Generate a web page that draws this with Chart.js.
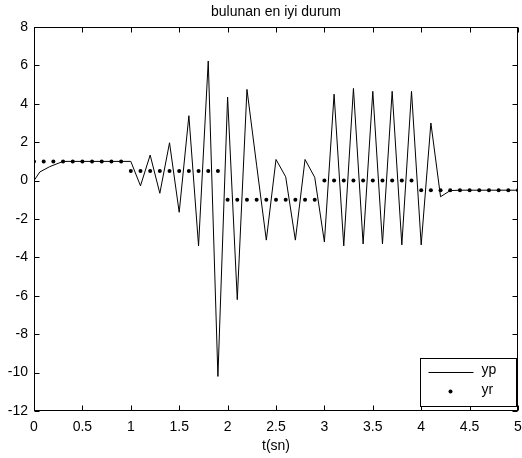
<!DOCTYPE html>
<html>
<head>
<meta charset="utf-8">
<script src="https://cdn.jsdelivr.net/npm/chart.js@4.4.1/dist/chart.umd.min.js"></script>
<style>
  html, body { margin: 0; padding: 0; background: #fff; }
  canvas { display: block; }
</style>
</head>
<body>
<canvas id="chart" width="522" height="458"></canvas>
<script>
const titleText = 'bulunan en iyi durum';
const xTitle = 't(sn)';

// yp: plant output
const tLine = [0, 0.06, 0.16, 0.3, 0.4, 0.5, 0.6, 0.7, 0.8, 0.9,
  1.0, 1.1, 1.2, 1.3, 1.4, 1.5, 1.6, 1.7, 1.8, 1.9,
  2.0, 2.1, 2.2, 2.3, 2.4, 2.5, 2.6, 2.7, 2.8, 2.9,
  3.0, 3.1, 3.2, 3.3, 3.4, 3.5, 3.6, 3.7, 3.8, 3.9,
  4.0, 4.1, 4.2, 4.3, 4.4, 4.5, 4.6, 4.7, 4.8, 4.9, 5.0];
const ypValues = [0, 0.45, 0.72, 1.0, 1.0, 1.0, 1.0, 1.0, 1.0, 1.0,
  1.0, -0.27, 1.33, -0.66, 1.97, -1.65, 3.38, -3.4, 6.23, -10.2,
  4.35, -6.2, 4.75, 0.8, -3.1, 1.1, 0.2, -3.1, 1.1, 0.17,
  -3.2, 4.5, -3.4, 4.8, -3.3, 4.65, -3.3, 4.65, -3.35, 4.65,
  -3.35, 3.0, -0.84, -0.52, -0.5, -0.5, -0.5, -0.5, -0.5, -0.5, -0.5];

// yr: reference, one dot every 0.1 s
const tRef = [0, 0.1, 0.2, 0.3, 0.4, 0.5, 0.6, 0.7, 0.8, 0.9,
  1.0, 1.1, 1.2, 1.3, 1.4, 1.5, 1.6, 1.7, 1.8, 1.9,
  2.0, 2.1, 2.2, 2.3, 2.4, 2.5, 2.6, 2.7, 2.8, 2.9,
  3.0, 3.1, 3.2, 3.3, 3.4, 3.5, 3.6, 3.7, 3.8, 3.9,
  4.0, 4.1, 4.2, 4.3, 4.4, 4.5, 4.6, 4.7, 4.8, 4.9, 5.0];
const yrValues = [1, 1, 1, 1, 1, 1, 1, 1, 1, 1,
  0.5, 0.5, 0.5, 0.5, 0.5, 0.5, 0.5, 0.5, 0.5, 0.5,
  -1, -1, -1, -1, -1, -1, -1, -1, -1, -1,
  0, 0, 0, 0, 0, 0, 0, 0, 0, 0,
  -0.5, -0.5, -0.5, -0.5, -0.5, -0.5, -0.5, -0.5, -0.5, -0.5, -0.5];

const FAMILY = '"Liberation Sans", Arial, sans-serif';
const FONT = '14px ' + FAMILY;

// matlab-ish box, inward ticks, title and legend
const matlabFrame = {
  id: 'matlabFrame',
  beforeDraw(chart) {
    const ctx = chart.ctx;
    ctx.save();
    ctx.fillStyle = '#fff';
    ctx.fillRect(0, 0, chart.width, chart.height);
    ctx.restore();
  },
  afterDraw(chart) {
    const ctx = chart.ctx;
    const a = chart.chartArea;
    const xs = chart.scales.x, ys = chart.scales.y;
    const L = Math.round(a.left) + 0.5, R = Math.round(a.right) - 0.5;
    const T = Math.round(a.top) + 0.5, B = Math.round(a.bottom) - 0.5;
    const len = 5;
    ctx.save();
    ctx.strokeStyle = '#000';
    ctx.lineWidth = 1;
    ctx.strokeRect(L, T, R - L, B - T);
    ctx.beginPath();
    xs.ticks.forEach(t => {
      const px = Math.round(xs.getPixelForValue(t.value)) + 0.5;
      ctx.moveTo(px, B); ctx.lineTo(px, B - len);
      ctx.moveTo(px, T); ctx.lineTo(px, T + len);
    });
    ys.ticks.forEach(t => {
      const py = Math.round(ys.getPixelForValue(t.value)) + 0.5;
      ctx.moveTo(L, py); ctx.lineTo(L + len, py);
      ctx.moveTo(R, py); ctx.lineTo(R - len, py);
    });
    ctx.stroke();

    // title, centred on the axes
    ctx.fillStyle = '#000';
    ctx.font = FONT;
    ctx.textAlign = 'center';
    ctx.textBaseline = 'middle';
    ctx.fillText(titleText, (a.left + a.right) / 2, 12);

    // legend box
    const ds = chart.data.datasets;
    const bw = 96, bh = 48;
    const bx = Math.round(a.right) - 2 - bw + 0.5;
    const by = Math.round(a.bottom) - 5 - bh + 0.5;
    ctx.fillStyle = '#fff';
    ctx.fillRect(bx, by, bw, bh);
    ctx.strokeRect(bx, by, bw, bh);
    ctx.fillStyle = '#000';
    ctx.textAlign = 'left';
    const row1 = by + 13, row2 = by + 33;
    ctx.beginPath();
    ctx.moveTo(bx + 8, Math.round(row1) + 0.5);
    ctx.lineTo(bx + 53, Math.round(row1) + 0.5);
    ctx.stroke();
    ctx.beginPath();
    ctx.arc(bx + 30, row2, 2, 0, Math.PI * 2);
    ctx.fill();
    ctx.fillText(ds[0].label, bx + 61, row1 - 1);
    ctx.fillText(ds[1].label, bx + 61, row2 - 1);
    ctx.restore();
  }
};

new Chart(document.getElementById('chart'), {
  type: 'scatter',
  data: {
    datasets: [
      {
        label: 'yp',
        data: tLine.map((t, i) => ({x: t, y: ypValues[i]})),
        showLine: true,
        borderColor: '#000',
        borderWidth: 1,
        pointRadius: 0,
        tension: 0,
      },
      {
        label: 'yr',
        data: tRef.map((t, i) => ({x: t, y: yrValues[i]})),
        showLine: false,
        backgroundColor: '#000',
        borderColor: '#000',
        borderWidth: 0,
        pointRadius: 2,
      },
    ]
  },
  options: {
    responsive: false,
    animation: false,
    layout: {padding: {top: 27, right: 2, left: 0, bottom: 0}},
    plugins: {
      legend: {display: false},
      title: {display: false},
      tooltip: {enabled: false},
    },
    scales: {
      x: {
        type: 'linear',
        min: 0, max: 5,
        ticks: {
          stepSize: 0.5, color: '#000', font: {family: FAMILY, size: 14}, padding: 8, maxRotation: 0,
          callback: v => String(Math.round(v * 10) / 10),
        },
        grid: {display: false, drawTicks: false},
        border: {display: false},
        title: {display: true, text: xTitle, color: '#000', font: {family: FAMILY, size: 14}, padding: {top: 0, bottom: 3}},
        afterFit(scale) { scale.height = 47; scale.paddingLeft = 0; scale.paddingRight = 0; },
      },
      y: {
        min: -12, max: 8,
        ticks: {stepSize: 2, color: '#000', font: {family: FAMILY, size: 14}, padding: 6},
        grid: {display: false, drawTicks: false},
        border: {display: false},
        afterFit(scale) { scale.width = 34; scale.paddingTop = 0; scale.paddingBottom = 0; },
      },
    },
  },
  plugins: [matlabFrame],
});
</script>
</body>
</html>
